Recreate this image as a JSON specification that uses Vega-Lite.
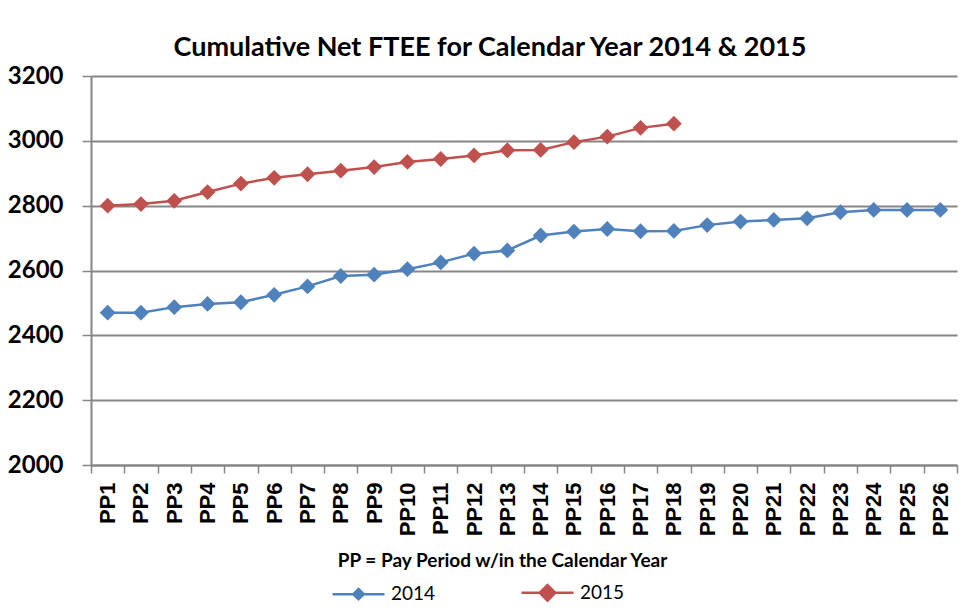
{
  "$schema": "https://vega.github.io/schema/vega-lite/v6.json",
  "width": 866,
  "height": 389,
  "autosize": "none",
  "padding": {"left": 91, "top": 76, "right": 4, "bottom": 146},
  "background": "white",
  "config": {"view": {"stroke": null}},
  "title": {"text": "Cumulative Net FTEE for Calendar Year 2014 & 2015", "font": "Lato", "fontSize": 27, "fontWeight": "bold", "color": "black", "anchor": "middle", "frame": "group", "dx": -34, "offset": 2},
  "data": {"values": [
    {"pp": "PP1", "year": "2014", "value": 2470},
    {"pp": "PP2", "year": "2014", "value": 2470},
    {"pp": "PP3", "year": "2014", "value": 2487},
    {"pp": "PP4", "year": "2014", "value": 2497},
    {"pp": "PP5", "year": "2014", "value": 2502},
    {"pp": "PP6", "year": "2014", "value": 2525},
    {"pp": "PP7", "year": "2014", "value": 2551},
    {"pp": "PP8", "year": "2014", "value": 2583},
    {"pp": "PP9", "year": "2014", "value": 2587},
    {"pp": "PP10", "year": "2014", "value": 2604},
    {"pp": "PP11", "year": "2014", "value": 2625},
    {"pp": "PP12", "year": "2014", "value": 2652},
    {"pp": "PP13", "year": "2014", "value": 2662},
    {"pp": "PP14", "year": "2014", "value": 2708},
    {"pp": "PP15", "year": "2014", "value": 2720},
    {"pp": "PP16", "year": "2014", "value": 2728},
    {"pp": "PP17", "year": "2014", "value": 2721},
    {"pp": "PP18", "year": "2014", "value": 2722},
    {"pp": "PP19", "year": "2014", "value": 2740},
    {"pp": "PP20", "year": "2014", "value": 2751},
    {"pp": "PP21", "year": "2014", "value": 2756},
    {"pp": "PP22", "year": "2014", "value": 2761},
    {"pp": "PP23", "year": "2014", "value": 2780},
    {"pp": "PP24", "year": "2014", "value": 2787},
    {"pp": "PP25", "year": "2014", "value": 2787},
    {"pp": "PP26", "year": "2014", "value": 2787},
    {"pp": "PP1", "year": "2015", "value": 2800},
    {"pp": "PP2", "year": "2015", "value": 2805},
    {"pp": "PP3", "year": "2015", "value": 2815},
    {"pp": "PP4", "year": "2015", "value": 2842},
    {"pp": "PP5", "year": "2015", "value": 2868},
    {"pp": "PP6", "year": "2015", "value": 2886},
    {"pp": "PP7", "year": "2015", "value": 2897},
    {"pp": "PP8", "year": "2015", "value": 2908},
    {"pp": "PP9", "year": "2015", "value": 2919},
    {"pp": "PP10", "year": "2015", "value": 2935},
    {"pp": "PP11", "year": "2015", "value": 2944},
    {"pp": "PP12", "year": "2015", "value": 2955},
    {"pp": "PP13", "year": "2015", "value": 2971},
    {"pp": "PP14", "year": "2015", "value": 2972},
    {"pp": "PP15", "year": "2015", "value": 2996},
    {"pp": "PP16", "year": "2015", "value": 3013},
    {"pp": "PP17", "year": "2015", "value": 3040},
    {"pp": "PP18", "year": "2015", "value": 3053}
  ]},
  "encoding": {
    "x": {
      "field": "pp", "type": "ordinal", "sort": null,
      "scale": {"type": "band", "paddingInner": 0, "paddingOuter": 0},
      "axis": {
        "labelAngle": -90, "labelAlign": "right", "labelBaseline": "middle",
        "labelFont": "Liberation Sans", "labelFontSize": 22, "labelFontWeight": "bold", "labelColor": "black",
        "labelPadding": 9, "tickBand": "extent", "tickSize": 8, "tickColor": "#868686", "tickWidth": 1.5,
        "domainColor": "#868686", "domainWidth": 2, "grid": false,
        "title": "PP = Pay Period w/in the Calendar Year",
        "titleFont": "Lato", "titleFontSize": 19, "titleFontWeight": "bold", "titleColor": "black",
        "titleX": 411, "titleY": 101, "titleBaseline": "alphabetic", "titleAlign": "center"
      }
    },
    "y": {
      "field": "value", "type": "quantitative",
      "scale": {"domain": [2000, 3200], "nice": false, "zero": false},
      "axis": {
        "values": [2000, 2200, 2400, 2600, 2800, 3000, 3200], "format": "d",
        "grid": true, "gridColor": "#868686", "gridWidth": 1.8,
        "tickSize": 9, "tickColor": "#868686", "tickWidth": 1.5, "labelPadding": 19,
        "labelFont": "Lato", "labelFontSize": 24, "labelFontWeight": "bold", "labelColor": "black",
        "domainColor": "#868686", "domainWidth": 2, "title": null
      }
    },
    "color": {
      "field": "year", "type": "nominal",
      "scale": {"domain": ["2014", "2015"], "range": ["#4F81BD", "#C0504D"]},
      "legend": {
        "orient": "none", "legendX": 240, "legendY": 489, "direction": "horizontal", "title": null,
        "labelFont": "Lato", "labelFontSize": 19, "labelColor": "black",
        "symbolType": "M-1,0L1,0M0,-0.3L0.3,0L0,0.3L-0.3,0Z", "symbolSize": 2704, "symbolStrokeWidth": 2.5,
        "columnPadding": 80, "labelOffset": 5,
        "encode": {
          "symbols": {
            "update": {
              "fill": {"scale": "color", "field": "value"},
              "stroke": {"scale": "color", "field": "value"},
              "size": {"value": 2704},
              "shape": {"signal": "datum.value === '2014' ? 'M-1,0L1,0M0,-0.2L0.2,0L0,0.2L-0.2,0Z' : 'M-1,0L1,0M0,-0.3L0.3,0L0,0.3L-0.3,0Z'"}
            }
          }
        }
      }
    }
  },
  "layer": [
    {"mark": {"type": "line", "strokeWidth": 2.5}},
    {"mark": {"type": "point", "shape": "diamond", "filled": true, "size": 250, "opacity": 1}}
  ]
}
